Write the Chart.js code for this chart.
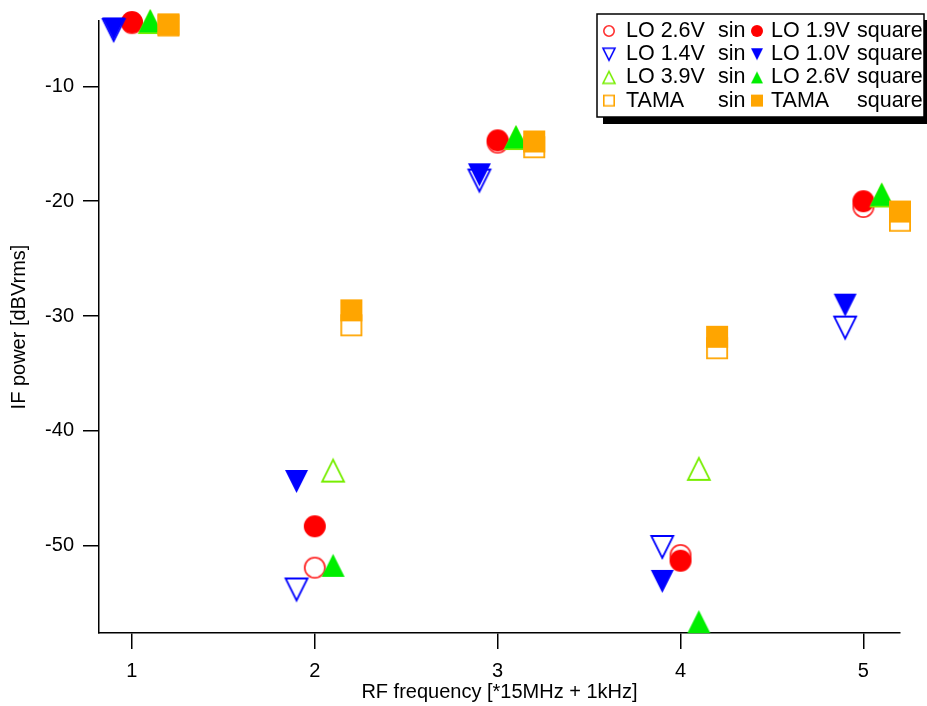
<!DOCTYPE html>
<html><head><meta charset="utf-8">
<script src="https://cdn.jsdelivr.net/npm/chart.js@4.4.1/dist/chart.umd.min.js"></script>
<style>html,body{margin:0;padding:0;background:#fff;overflow:hidden}</style>
</head><body>
<canvas id="c" width="927" height="706" style="display:block;width:927px;height:706px"></canvas>
<script>
// ---- data ----
const xTicks = [1, 2, 3, 4, 5];
const yTicks = [-10, -20, -30, -40, -50];
const xCircle = [1, 2, 3, 4, 5];
const xDown   = [0.9, 1.9, 2.9, 3.9, 4.9];
const xUp     = [1.1, 2.1, 3.1, 4.1, 5.1];
const xSquare = [1.2, 2.2, 3.2, 4.2, 5.2];

const sinNames    = ['LO 2.6V', 'LO 1.4V', 'LO 3.9V', 'TAMA'];
const squareNames = ['LO 1.9V', 'LO 1.0V', 'LO 2.6V', 'TAMA'];

const lo26Sin    = [-4.5, -51.9, -14.9, -50.8, -20.5];
const lo19Square = [-4.4, -48.3, -14.7, -51.3, -20.0];
const lo14Sin    = [-5.1, -53.8, -18.2, -50.1, -31.0];
const lo10Square = [-5.0, -44.4, -17.7, -53.1, -29.05];
const lo39Sin    = [-4.4, -43.45, -14.5, -43.3, -19.5];
const lo26Square = [-4.3, -51.7, -14.4, -56.6, -19.4];
const tamaSin    = [-4.7, -30.8, -15.3, -32.8, -21.7];
const tamaSquare = [-4.6, -29.5, -14.8, -31.8, -20.9];

// ---- marker images ----
function makeMarker(shape, filled, color, size, lw) {
  const pad = 4;
  const cv = document.createElement('canvas');
  cv.width = size + pad * 2; cv.height = size + pad * 2;
  const c = cv.getContext('2d');
  const cx = cv.width / 2, cy = cv.height / 2, h = size / 2;
  c.beginPath();
  if (shape === 'circle') {
    c.arc(cx, cy, h - (filled ? 0 : lw / 2), 0, Math.PI * 2);
  } else if (shape === 'down') {
    c.moveTo(cx - h, cy - h); c.lineTo(cx + h, cy - h); c.lineTo(cx, cy + h); c.closePath();
  } else if (shape === 'up') {
    c.moveTo(cx - h, cy + h); c.lineTo(cx + h, cy + h); c.lineTo(cx, cy - h); c.closePath();
  } else {
    const s = filled ? h : h - lw / 2;
    c.rect(cx - s, cy - s, 2 * s, 2 * s);
  }
  if (filled) { c.fillStyle = color; c.fill(); }
  else { c.strokeStyle = color; c.lineWidth = lw; c.lineJoin = 'miter'; c.stroke(); }
  return cv;
}

const RED = '#FF0000', BLUE = '#0000FF', LIME = '#77EE00', GREEN = '#00EE00', ORANGE = '#FFA500';

const specs = [
  {name: sinNames[0],    mode: 'sin',    x: xCircle, y: lo26Sin,    shape: 'circle', filled: false, color: '#FF3030', size: 22},
  {name: squareNames[0], mode: 'square', x: xCircle, y: lo19Square, shape: 'circle', filled: true,  color: RED,       size: 22},
  {name: sinNames[1],    mode: 'sin',    x: xDown,   y: lo14Sin,    shape: 'down',   filled: false, color: BLUE,      size: 22},
  {name: squareNames[1], mode: 'square', x: xDown,   y: lo10Square, shape: 'down',   filled: true,  color: BLUE,      size: 23},
  {name: sinNames[2],    mode: 'sin',    x: xUp,     y: lo39Sin,    shape: 'up',     filled: false, color: LIME,      size: 22},
  {name: squareNames[2], mode: 'square', x: xUp,     y: lo26Square, shape: 'up',     filled: true,  color: GREEN,     size: 23},
  {name: sinNames[3],    mode: 'sin',    x: xSquare, y: tamaSin,    shape: 'square', filled: false, color: ORANGE,    size: 22},
  {name: squareNames[3], mode: 'square', x: xSquare, y: tamaSquare, shape: 'square', filled: true,  color: ORANGE,    size: 22}
];

const datasets = specs.map((s, i) => {
  s.img = makeMarker(s.shape, s.filled, s.color, s.size, 1.8);
  s.legendImg = makeMarker(s.shape, s.filled, s.color, 12, 1.6);
  return {
    label: s.name + ' ' + s.mode,
    data: s.x.map((xv, k) => ({x: xv, y: s.y[k]})),
    pointStyle: s.img,
    pointRadius: 12,
    showLine: false,
    clip: false,
    order: specs.length - i
  };
});

const FONT = "'Liberation Sans', Arial, Helvetica, sans-serif";

const boxLegend = {
  id: 'boxLegend',
  afterDraw(chart) {
    const c = chart.ctx;
    c.save();
    const bx = 597, by = 14, bw = 327, bh = 103;
    c.fillStyle = '#000';
    c.fillRect(bx + 6, by + 6, bw, bh + 1);
    c.fillStyle = '#fff';
    c.fillRect(bx, by, bw, bh);
    c.strokeStyle = '#000'; c.lineWidth = 1.5;
    c.strokeRect(bx, by, bw, bh);
    c.font = '21.5px ' + FONT;
    c.fillStyle = '#000';
    c.textBaseline = 'middle';
    c.textAlign = 'left';
    const rows = 4;
    for (let r = 0; r < rows; r++) {
      const ry = 31 + r * 23.2;
      const sSin = specs[r * 2], sSq = specs[r * 2 + 1];
      c.drawImage(sSin.legendImg, 609 - sSin.legendImg.width / 2, ry - sSin.legendImg.height / 2);
      c.fillText(sSin.name, 626, ry);
      c.fillText(sSin.mode, 718, ry);
      c.drawImage(sSq.legendImg, 757 - sSq.legendImg.width / 2, ry - sSq.legendImg.height / 2);
      c.fillText(sSq.name, 771, ry);
      c.fillText(sSq.mode, 857, ry);
    }
    c.restore();
  }
};

new Chart(document.getElementById('c'), {
  type: 'scatter',
  data: {datasets},
  options: {
    responsive: false,
    animation: false,
    devicePixelRatio: 1,
    layout: {padding: {top: 15, right: 27, left: 0, bottom: 0}},
    plugins: {legend: {display: false}, tooltip: {enabled: false}},
    scales: {
      x: {
        type: 'linear', min: 0.82, max: 5.2,
        afterFit: s => { s.height = 73; },
        afterBuildTicks: s => { s.ticks = xTicks.map(v => ({value: v})); },
        ticks: {stepSize: 1, includeBounds: false, color: '#000', font: {family: FONT, size: 20}, padding: 10, maxRotation: 0},
        grid: {drawOnChartArea: false, drawTicks: true, tickLength: 16, color: '#000', lineWidth: 1.5},
        border: {color: '#000', width: 1.5},
        title: {display: true, text: 'RF frequency [*15MHz + 1kHz]', color: '#000', font: {family: FONT, size: 20}, padding: {top: 0, bottom: 2}}
      },
      y: {
        type: 'linear', min: -57.59, max: -4.31,
        afterFit: s => { s.width = 99; },
        afterBuildTicks: s => { s.ticks = yTicks.map(v => ({value: v})); },
        ticks: {stepSize: 10, includeBounds: false, color: '#000', font: {family: FONT, size: 20}, padding: 9},
        grid: {drawOnChartArea: false, drawTicks: true, tickLength: 16, color: '#000', lineWidth: 1.5},
        border: {color: '#000', width: 1.5},
        title: {display: true, text: 'IF power [dBVrms]', color: '#000', font: {family: FONT, size: 20}, padding: {top: 7, bottom: 0}}
      }
    }
  },
  plugins: [boxLegend]
});
</script>
</body></html>
